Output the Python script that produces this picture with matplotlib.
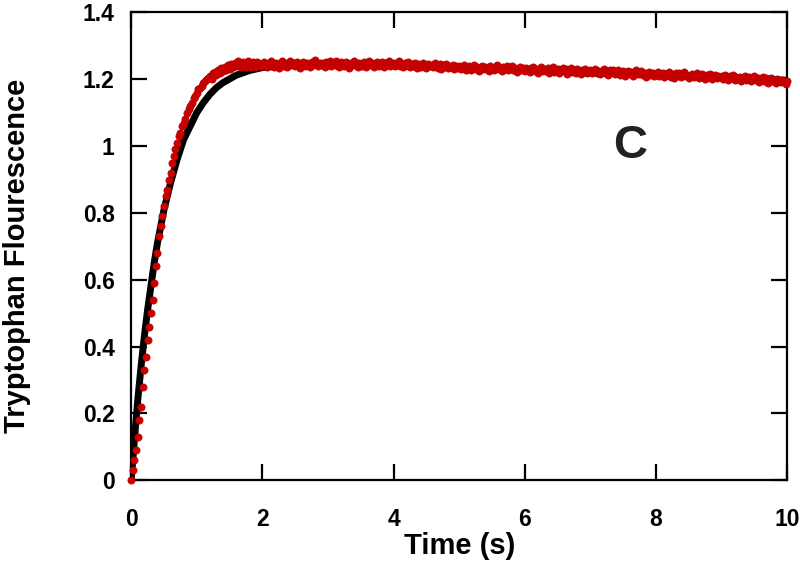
import numpy as np
import matplotlib
matplotlib.use("Agg")
import matplotlib.pyplot as plt
from matplotlib.ticker import FuncFormatter

plt.rcParams['font.family'] = ['Liberation Sans', 'DejaVu Sans']

# Fit curve (black)
fit_t = [0.0, 0.05, 0.1, 0.15, 0.2, 0.25, 0.3, 0.35, 0.4, 0.45, 0.5, 0.6, 0.7, 0.8, 0.9,
         1.0, 1.1, 1.2, 1.3, 1.4, 1.6, 1.8, 2.0, 2.5, 3.0, 4.0, 5.0, 6.0, 7.0, 8.0, 9.0, 10.0]
fit_y = [0.0, 0.125, 0.24, 0.34, 0.43, 0.51, 0.58, 0.65, 0.71, 0.76, 0.81, 0.89, 0.96, 1.02, 1.06,
         1.10, 1.13, 1.155, 1.175, 1.19, 1.212, 1.226, 1.235, 1.243, 1.245, 1.242, 1.235, 1.228,
         1.220, 1.212, 1.205, 1.197]

# Measured data (red): rise phase 0-2 s sampled every 0.025 s
rise_t = np.arange(0.0, 1.99, 0.025)
rise_y = [0.00, 0.03, 0.06, 0.09, 0.13, 0.18, 0.22, 0.28, 0.33, 0.37,
          0.42, 0.46, 0.50, 0.54, 0.59, 0.64, 0.68, 0.73, 0.76, 0.79,
          0.82, 0.85, 0.87, 0.90, 0.92, 0.95, 0.97, 0.99, 1.01, 1.03,
          1.04, 1.06, 1.07, 1.08, 1.10, 1.11, 1.12, 1.13, 1.145, 1.15,
          1.16, 1.17, 1.175, 1.18, 1.19, 1.195, 1.20, 1.205, 1.21, 1.202,
          1.218, 1.222, 1.212, 1.228, 1.219, 1.233, 1.224, 1.238, 1.228, 1.243,
          1.232, 1.246, 1.236, 1.250, 1.239, 1.254, 1.243, 1.236, 1.252, 1.244,
          1.238, 1.255, 1.245, 1.237, 1.251, 1.243, 1.236, 1.253, 1.246, 1.239]

# Plateau phase 2-10 s sampled every 0.025 s
plat_t = np.linspace(2.0, 10.0, 321)
plat_y = [
    # 2.0 - 2.975
    1.240, 1.252, 1.246, 1.236, 1.249, 1.255, 1.243, 1.238, 1.250, 1.244,
    1.233, 1.247, 1.254, 1.241, 1.249, 1.237, 1.245, 1.256, 1.242, 1.248,
    1.239, 1.251, 1.244, 1.235, 1.247, 1.253, 1.240, 1.249, 1.245, 1.238,
    1.252, 1.243, 1.257, 1.246, 1.239, 1.250, 1.242, 1.248, 1.236, 1.251,
    # 3.0 - 3.975
    1.244, 1.254, 1.239, 1.248, 1.243, 1.256, 1.247, 1.237, 1.251, 1.245,
    1.240, 1.253, 1.246, 1.234, 1.249, 1.242, 1.255, 1.244, 1.238, 1.250,
    1.247, 1.241, 1.252, 1.236, 1.246, 1.254, 1.243, 1.249, 1.238, 1.247,
    1.253, 1.240, 1.246, 1.251, 1.237, 1.248, 1.243, 1.255, 1.241, 1.246,
    # 4.0 - 4.975
    1.250, 1.239, 1.246, 1.254, 1.241, 1.247, 1.236, 1.249, 1.243, 1.252,
    1.238, 1.245, 1.240, 1.250, 1.234, 1.246, 1.241, 1.237, 1.248, 1.243,
    1.233, 1.246, 1.239, 1.244, 1.236, 1.249, 1.240, 1.235, 1.245, 1.231,
    1.242, 1.238, 1.246, 1.233, 1.240, 1.236, 1.244, 1.230, 1.239, 1.235,
    # 5.0 - 5.975
    1.241, 1.232, 1.238, 1.244, 1.229, 1.236, 1.240, 1.227, 1.235, 1.242,
    1.231, 1.238, 1.226, 1.234, 1.241, 1.230, 1.237, 1.233, 1.224, 1.239,
    1.232, 1.228, 1.236, 1.242, 1.230, 1.234, 1.225, 1.237, 1.231, 1.239,
    1.227, 1.233, 1.240, 1.229, 1.235, 1.223, 1.232, 1.238, 1.228, 1.234,
    # 6.0 - 6.975
    1.224, 1.235, 1.229, 1.221, 1.233, 1.238, 1.226, 1.231, 1.219, 1.228,
    1.236, 1.224, 1.230, 1.225, 1.234, 1.220, 1.229, 1.237, 1.223, 1.227,
    1.232, 1.218, 1.226, 1.233, 1.224, 1.230, 1.215, 1.227, 1.234, 1.222,
    1.228, 1.220, 1.231, 1.225, 1.217, 1.229, 1.223, 1.232, 1.219, 1.226,
    # 7.0 - 7.975
    1.229, 1.218, 1.225, 1.232, 1.220, 1.226, 1.215, 1.223, 1.230, 1.219,
    1.224, 1.212, 1.227, 1.221, 1.229, 1.216, 1.222, 1.228, 1.214, 1.220,
    1.226, 1.211, 1.219, 1.225, 1.217, 1.223, 1.209, 1.221, 1.227, 1.215,
    1.218, 1.224, 1.212, 1.220, 1.208, 1.216, 1.222, 1.213, 1.219, 1.210,
    # 8.0 - 8.975
    1.216, 1.222, 1.209, 1.214, 1.220, 1.207, 1.217, 1.212, 1.223, 1.208,
    1.215, 1.205, 1.218, 1.211, 1.219, 1.206, 1.213, 1.221, 1.209, 1.214,
    1.203, 1.211, 1.217, 1.207, 1.212, 1.219, 1.204, 1.210, 1.216, 1.208,
    1.201, 1.213, 1.207, 1.215, 1.202, 1.209, 1.214, 1.204, 1.211, 1.206,
    # 9.0 - 9.975
    1.209, 1.200, 1.212, 1.205, 1.198, 1.210, 1.203, 1.214, 1.199, 1.206,
    1.201, 1.208, 1.195, 1.204, 1.210, 1.197, 1.203, 1.207, 1.194, 1.202,
    1.209, 1.198, 1.204, 1.192, 1.201, 1.206, 1.196, 1.203, 1.190, 1.200,
    1.205, 1.194, 1.199, 1.188, 1.202, 1.196, 1.191, 1.198, 1.193, 1.186,
    # 10.0
    1.195]

x_ticks = [0, 2, 4, 6, 8, 10]
y_ticks = [0, 0.2, 0.4, 0.6, 0.8, 1.0, 1.2, 1.4]

fig = plt.figure(figsize=(8, 5.65), dpi=100)
ax = fig.add_axes([0.164, 0.150, 0.820, 0.828])

ax.plot(fit_t, fit_y, color='black', lw=5, solid_capstyle='round', zorder=2)
data_t = np.concatenate([rise_t, plat_t])
data_y = np.concatenate([rise_y, plat_y])
ax.plot(data_t, data_y, linestyle='none', marker='o', markersize=5.2,
        markerfacecolor='#cc0000', markeredgecolor='#b80000', markeredgewidth=0.5,
        zorder=3, clip_on=False)

ax.set_xlim(0, 10)
ax.set_ylim(0, 1.4)
ax.set_xticks(x_ticks)
ax.set_yticks(y_ticks)
fmt = FuncFormatter(lambda v, p: ('%g' % round(v, 2)))
ax.xaxis.set_major_formatter(fmt)
ax.yaxis.set_major_formatter(fmt)

ax.tick_params(axis='both', which='major', direction='in', length=11.5, width=1.6,
               top=True, right=True, labelsize=16.5)
ax.tick_params(axis='x', pad=20)
ax.tick_params(axis='y', pad=12)
for lab in ax.get_xticklabels() + ax.get_yticklabels():
    lab.set_fontweight('bold')
for s in ax.spines.values():
    s.set_linewidth(1.6)

ax.set_xlabel('Time (s)', fontsize=21, fontweight='bold')
ax.set_ylabel('Tryptophan Flourescence', fontsize=21, fontweight='bold')
ax.xaxis.set_label_coords(0.5, -0.11)
ax.yaxis.set_label_coords(-0.153, 0.479)

ax.text(7.6, 1.0, 'C', fontsize=34, fontweight='bold', color='#222222',
        ha='center', va='center')

fig.savefig('out.png', dpi=100)
